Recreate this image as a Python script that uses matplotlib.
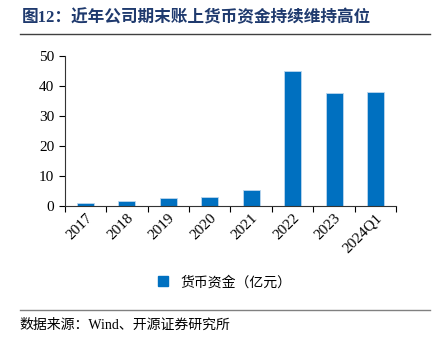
import matplotlib.pyplot as plt
from matplotlib.lines import Line2D

plt.rcParams['font.family'] = ['Liberation Serif', 'Noto Sans CJK SC']

years = ['2017', '2018', '2019', '2020', '2021', '2022', '2023', '2024Q1']
cash = [1.1, 1.5, 2.7, 3.1, 5.3, 44.8, 37.7, 37.8]

bar_color = '#0070C0'
title_color = '#1F3A6E'

fig = plt.figure(figsize=(4.32, 3.41), dpi=100)
ax = fig.add_axes([0.150, 0.396, 0.767, 0.441])

x = list(range(len(years)))
ax.bar(x, cash, width=0.41, color=bar_color, edgecolor='#BDD7EE', linewidth=0.6)

ax.set_xlim(-0.5, len(years) - 0.5)
ax.set_ylim(0, 50)
ax.set_yticks([0, 10, 20, 30, 40, 50])

# x ticks sit between the categories, labels under the bars
ax.set_xticks([i + 0.5 for i in range(-1, len(years))])
ax.set_xticklabels([])
ax.set_xticks(x, minor=True)
ax.set_xticklabels(years, minor=True, rotation=45, ha='right', va='top',
                   rotation_mode='anchor', fontsize=11)
ax.tick_params(axis='x', which='minor', length=0, pad=4)
ax.tick_params(axis='x', which='major', length=4, direction='out', width=0.8)
ax.tick_params(axis='y', length=4, direction='out', labelsize=11, width=0.8)

for s in ['top', 'right']:
    ax.spines[s].set_visible(False)
ax.spines['left'].set_color('#333333')
ax.spines['bottom'].set_color('#333333')

fig.text(0.051, 0.948, '图12：近年公司期末账上货币资金持续维持高位', fontsize=12,
         fontweight='bold', color=title_color, va='center',
         family=['Liberation Serif', 'Noto Sans CJK SC'])
fig.add_artist(Line2D([0.046, 0.995], [0.900, 0.900], color='#404040', lw=1.0))
fig.add_artist(Line2D([0.046, 0.995], [0.091, 0.091], color='#808080', lw=1.0))

handle = Line2D([], [], marker='s', linestyle='none', color=bar_color, markersize=7)
fig.legend([handle], ['货币资金（亿元）'], loc='center', bbox_to_anchor=(0.51, 0.172),
           frameon=False, handletextpad=0.2, prop={'family': 'Noto Sans CJK SC', 'size': 10})

fig.text(0.046, 0.047, '数据来源：Wind、开源证券研究所', fontsize=10, va='center',
         family=['Liberation Serif', 'Noto Sans CJK SC'])

fig.savefig('out.png', dpi=100)
